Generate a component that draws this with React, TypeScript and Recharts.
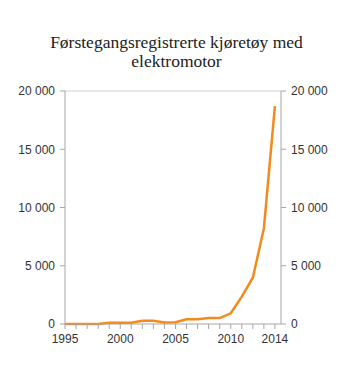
import { LineChart, Line, XAxis, YAxis, ReferenceLine } from "recharts";

const years = [
  1995, 1996, 1997, 1998, 1999, 2000, 2001, 2002, 2003, 2004, 2005, 2006, 2007,
  2008, 2009, 2010, 2011, 2012, 2013, 2014,
];
const vehicles = [
  0, 0, 0, 0, 100, 110, 110, 280, 280, 130, 150, 400, 400, 510, 510, 920, 2350,
  3970, 8200, 18700,
];
const yTicks = [0, 5000, 10000, 15000, 20000];
const labelledYears = [1995, 2000, 2005, 2010, 2014];
const title = ["Førstegangsregistrerte kjøretøy med", "elektromotor"];

const rows = years.map((year, i) => ({ year, value: vehicles[i] }));

const AXIS = "#a6a6a6";
const tick = { fontSize: 12, fill: "#333", fontFamily: "Liberation Sans, Arial, sans-serif" };
const fmt = (v: number) => v.toLocaleString("en-US").replace(/,/g, "\u00a0");

export default function App() {
  return (
    <div style={{ position: "absolute", left: 0, top: 0, width: 353, height: 383, background: "#fff" }}>
      <div
        style={{
          position: "absolute",
          top: 33,
          left: 0,
          width: 353,
          textAlign: "center",
          fontFamily: "Liberation Serif, Times New Roman, serif",
          fontSize: 17.5,
          lineHeight: "19px",
          color: "#222",
        }}
      >
        {title[0]}
        <br />
        {title[1]}
      </div>
      <div style={{ position: "absolute", left: 0, top: 0 }}>
        <LineChart
          width={353}
          height={383}
          data={rows}
          margin={{ top: 91, right: 0, bottom: 0, left: 0 }}
        >
          <XAxis
            dataKey="year"
            type="number"
            domain={[1995, 2014.55]}
            ticks={years}
            interval={0}
            tickFormatter={(v: number) => (labelledYears.includes(v) ? String(v) : "")}
            stroke={AXIS}
            tickSize={5}
            tickMargin={5}
            tick={tick}
            height={59}
          />
          <YAxis
            yAxisId="left"
            domain={[0, 20000]}
            ticks={yTicks}
            tickFormatter={fmt}
            stroke={AXIS}
            tickSize={5}
            tickMargin={5}
            tick={tick}
            width={65}
          />
          <YAxis
            yAxisId="right"
            orientation="right"
            domain={[0, 20000]}
            ticks={yTicks}
            tickFormatter={fmt}
            stroke={AXIS}
            tickSize={5}
            tickMargin={5}
            tick={tick}
            width={72}
          />
          <ReferenceLine yAxisId="left" y={20000} stroke="#d0d0d0" />
          <Line
            yAxisId="right"
            dataKey="value"
            type="linear"
            stroke="none"
            dot={false}
            activeDot={false}
            isAnimationActive={false}
          />
          <Line
            yAxisId="left"
            dataKey="value"
            type="linear"
            stroke="#f28a1c"
            strokeWidth={2.5}
            dot={false}
            isAnimationActive={false}
          />
        </LineChart>
      </div>
    </div>
  );
}
